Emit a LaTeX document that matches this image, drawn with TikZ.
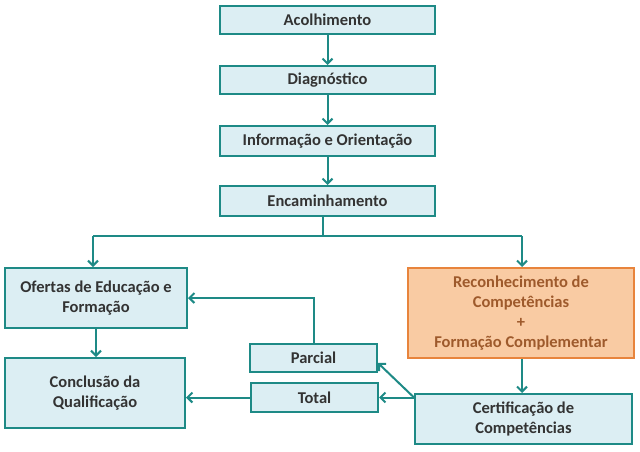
\documentclass[tikz,border=0pt]{standalone}
\usepackage{fontspec}
\setmainfont{Carlito}
\usetikzlibrary{arrows.meta}
\definecolor{teal1}{HTML}{1E8A86}
\definecolor{boxfill}{HTML}{DCEEF3}
\definecolor{orfill}{HTML}{F9CBA3}
\definecolor{ordraw}{HTML}{E8843C}
\definecolor{ortext}{HTML}{9E5A2C}
\tikzset{
  x=1pt,y=-1pt,
  bx/.style={draw=teal1,line width=2pt,fill=boxfill,inner sep=0pt,align=center,font=\bfseries\fontsize{16.5}{20}\selectfont,text=black!80},
  obx/.style={bx,draw=ordraw,fill=orfill,text=ortext},
  arr/.style={draw=teal1,line width=2pt,-{Straight Barb[length=5pt,width=10pt]}},
  ln/.style={draw=teal1,line width=2pt},
}
\begin{document}
\begin{tikzpicture}
\useasboundingbox[fill=white] (0,0) rectangle (640,452);
\node[bx,minimum width=215,minimum height=28] (a) at (327.5,20) {Acolhimento};
\node[bx,minimum width=215,minimum height=28] (b) at (327.5,80) {Diagnóstico};
\node[bx,minimum width=215,minimum height=30] (c) at (327.5,141) {Informação e Orientação};
\node[bx,minimum width=215,minimum height=30] (d) at (327.5,201) {Encaminhamento};
\node[bx,minimum width=182,minimum height=60] (e) at (96,298) {Ofertas de Educação e\\Formação};
\node[bx,minimum width=180,minimum height=70] (f) at (95,393) {Conclusão da\\Qualificação};
\node[bx,minimum width=127,minimum height=28] (p) at (313.5,358) {Parcial};
\node[bx,minimum width=127,minimum height=29] (t) at (314.5,397.5) {Total};
\node[obx,minimum width=226,minimum height=90] (r) at (521,313) {Reconhecimento de\\Competências\\+\\Formação Complementar};
\node[bx,minimum width=217,minimum height=50] (g) at (523.5,419) {Certificação de\\Competências};
\coordinate (j) at (323,236);
\draw[arr] (a) -- (b);
\draw[arr] (b) -- (c);
\draw[arr] (c) -- (d);
\draw[ln] (d.south -| j) -- (j);
\draw[arr] (93,236) -- (93,236 |- e.north);
\draw[ln] (93,236) -- (522,236);
\draw[arr] (522,236) -- (522,236 |- r.north);
\draw[arr] (e) -- (e |- f.north);
\draw[arr] (r.south -| 522,0) -- (g.north -| 522,0);
\coordinate (q) at (g.west |- t);
\draw[arr] (q) -- (t.east);
\draw[arr] (q) -- ([yshift=-5pt]p.east);
\draw[arr] (p.north) |- (e.east);
\draw[arr] (t.west) -- (t -| f.east);
\end{tikzpicture}
\end{document}
